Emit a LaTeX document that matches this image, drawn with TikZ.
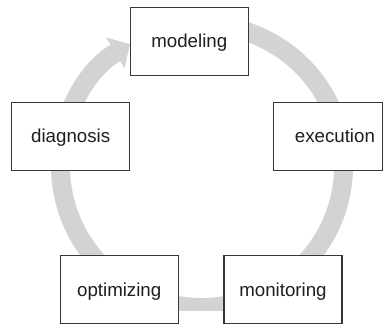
\documentclass[tikz,border=0pt]{standalone}
\usepackage{fontspec}
\setmainfont{Liberation Sans}
\usetikzlibrary{arrows.meta}
\definecolor{ringgray}{RGB}{211,211,211}
\definecolor{boxline}{RGB}{55,55,55}
\definecolor{txt}{RGB}{30,30,30}
\tikzset{
  stagebox/.style={draw=boxline, line width=1.1pt, fill=white, inner sep=0pt,
    minimum width=118pt, minimum height=67.7pt, text height=13.4pt, text depth=0pt,
    text=txt, font=\fontsize{18.7pt}{22pt}\selectfont},
  cyclering/.style={draw=ringgray, line width=19pt,
    -{Triangle[length=17pt, width=35pt, fill=ringgray]}}
}
\begin{document}
\begin{tikzpicture}[x=1pt, y=1pt]
\useasboundingbox (0,0) rectangle (383,325);
\coordinate (ctr) at (202,159);
\begin{scope}
  \clip (0,15) rectangle (383,325);
  \draw[cyclering] ([shift={(100:141.5)}]ctr) arc[start angle=100, end angle=-239.4, radius=141.5];
\end{scope}
\node[stagebox] (modeling) at (189.3,283.8) {modeling};
\node[stagebox] (diagnosis) at (70.7,188.8) {diagnosis};
\node[stagebox, minimum width=109.2pt] (execution) at (327.9,188.8) {\hspace*{14pt}execution};
\node[stagebox] (optimizing) at (119.2,35.3) {optimizing};
\node[stagebox] (monitoring) at (283,35.3) {monitoring};
\end{tikzpicture}
\end{document}
